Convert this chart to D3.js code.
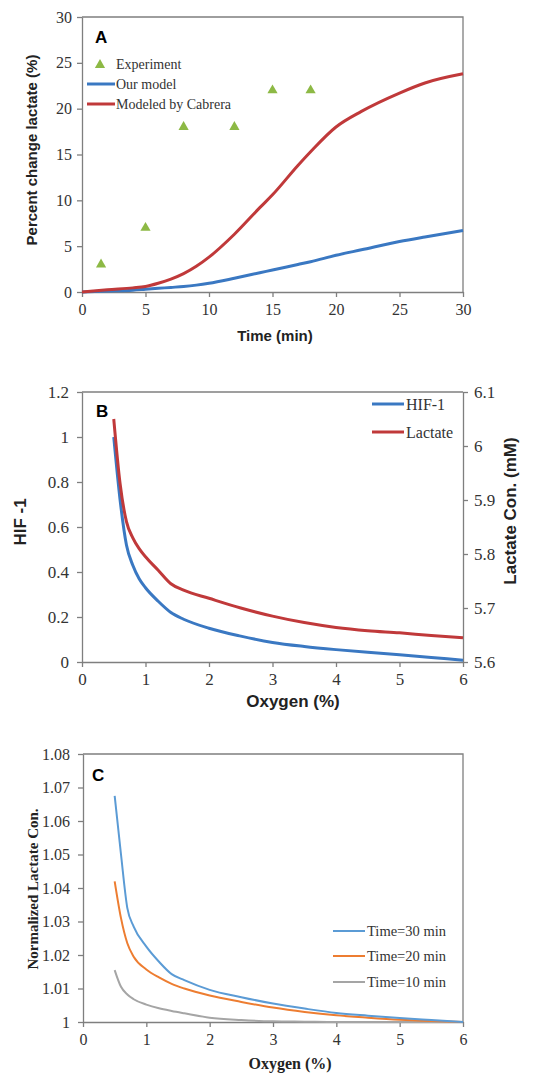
<!DOCTYPE html>
<html>
<head>
<meta charset="utf-8">
<script src="https://cdn.jsdelivr.net/npm/d3@7"></script>
<style>
  body { margin: 0; background: #fff; }
  svg { display: block; }
</style>
</head>
<body>
<svg id="chart" width="551" height="1074"></svg>
<script>
// ---- panel A data ----
var timeA = [0, 2, 4, 5, 6, 7, 8, 9, 10, 12, 14, 15, 17, 18, 20, 22, 25, 27, 30];
var cabrera = [0, 0.25, 0.45, 0.6, 0.95, 1.4, 2.0, 2.8, 3.8, 6.3, 9.2, 10.6, 13.8, 15.3, 18.0, 19.7, 21.7, 22.8, 23.8];
var ourModel = [0, 0.1, 0.2, 0.3, 0.4, 0.5, 0.6, 0.75, 0.95, 1.5, 2.1, 2.4, 3.0, 3.3, 4.0, 4.6, 5.5, 6.0, 6.7];
var expTime = [1.5, 5, 8, 12, 15, 18];
var expVal = [3, 7, 18, 18, 22, 22];

// ---- panel B data ----
var oxyB = [0.5, 0.6, 0.7, 0.8, 0.9, 1.0, 1.2, 1.4, 1.6, 2.0, 2.5, 3.0, 3.5, 4.0, 4.5, 5.0, 5.5, 6.0];
var hif = [1.0, 0.72, 0.52, 0.43, 0.37, 0.33, 0.27, 0.22, 0.19, 0.15, 0.115, 0.087, 0.069, 0.055, 0.043, 0.032, 0.02, 0.008];
var lactate = [6.05, 5.93, 5.86, 5.83, 5.81, 5.795, 5.77, 5.745, 5.733, 5.718, 5.70, 5.685, 5.673, 5.664, 5.658, 5.654, 5.649, 5.645];

// ---- panel C data ----
var oxyC = [0.5, 0.6, 0.7, 0.8, 1.0, 1.2, 1.4, 1.6, 2.0, 2.5, 3.0, 3.5, 4.0, 4.5, 5.0, 5.5, 6.0];
var t30 = [1.0675, 1.05, 1.034, 1.0285, 1.0225, 1.018, 1.0143, 1.0125, 1.0096, 1.0074, 1.0055, 1.004, 1.0027, 1.0019, 1.0012, 1.0006, 1.0];
var t20 = [1.042, 1.031, 1.0235, 1.0195, 1.0157, 1.0133, 1.0114, 1.01, 1.0079, 1.006, 1.0043, 1.003, 1.002, 1.0013, 1.0007, 1.0003, 1.0];
var t10 = [1.0155, 1.0105, 1.0082, 1.0068, 1.0052, 1.0041, 1.0033, 1.0026, 1.0013, 1.0006, 1.0002, 1.0001, 1.0, 1.0, 1.0, 1.0, 1.0];

var svg = d3.select("#chart");
var axisColor = "#7f7f7f";
var serif = "'Liberation Serif', 'Times New Roman', serif";
var sans = "'Liberation Sans', Arial, sans-serif";

function styleAxis(g, size) {
    g.attr("font-family", null).attr("font-size", null);
    g.select(".domain").attr("stroke", axisColor).attr("stroke-width", 1.3);
    g.selectAll(".tick line").attr("stroke", axisColor).attr("stroke-width", 1.3);
    g.selectAll(".tick text")
        .style("font-family", serif)
        .style("font-size", size + "px")
        .attr("fill", "#333");
}

function frame(x0, x1, y0, y1) {
    svg.append("path")
        .attr("d", "M" + x0 + "," + y0 + "H" + x1 + "V" + y1)
        .attr("fill", "none").attr("stroke", axisColor).attr("stroke-width", 1.3);
}

function zipPts(xs, ys) { return xs.map(function(d, i) { return [d, ys[i]]; }); }

// ================= Panel A =================
var xA = d3.scaleLinear().domain([0, 30]).range([82, 463]);
var yA = d3.scaleLinear().domain([0, 30]).range([292, 17]);

frame(82, 463, 17, 292);
svg.append("g").attr("transform", "translate(0,292)")
    .call(d3.axisBottom(xA).tickValues([0, 5, 10, 15, 20, 25, 30]).tickSize(5).tickPadding(7).tickSizeOuter(0))
    .call(styleAxis, 16);
svg.append("g").attr("transform", "translate(82,0)")
    .call(d3.axisLeft(yA).tickValues([0, 5, 10, 15, 20, 25, 30]).tickSize(5).tickPadding(5).tickSizeOuter(0))
    .call(styleAxis, 16);

var lineA = d3.line().x(function(d) { return xA(d[0]); }).y(function(d) { return yA(d[1]); }).curve(d3.curveMonotoneX);

svg.append("path").datum(zipPts(timeA, ourModel)).attr("d", lineA)
    .attr("fill", "none").attr("stroke", "#3a78c2").attr("stroke-width", 3);
svg.append("path").datum(zipPts(timeA, cabrera)).attr("d", lineA)
    .attr("fill", "none").attr("stroke", "#c0393a").attr("stroke-width", 3);

var tri = d3.symbol().type(d3.symbolTriangle).size(45);
svg.selectAll(".exp").data(zipPts(expTime, expVal)).enter().append("path")
    .attr("class", "exp")
    .attr("d", tri)
    .attr("transform", function(d) { return "translate(" + xA(d[0]) + "," + yA(d[1]) + ")"; })
    .attr("fill", "#8db945");

svg.append("text").attr("x", 95).attr("y", 43).text("A")
    .style("font-family", sans).style("font-weight", "bold").style("font-size", "17px");

// legend A
svg.append("path").attr("d", tri).attr("transform", "translate(100,65)").attr("fill", "#8db945");
var legA = [["Our model", "#3a78c2", 84], ["Modeled by Cabrera", "#c0393a", 104]];
legA.forEach(function(l) {
    svg.append("line").attr("x1", 87).attr("x2", 115).attr("y1", l[2]).attr("y2", l[2])
        .attr("stroke", l[1]).attr("stroke-width", 3);
});
var legTextA = [["Experiment", 64], ["Our model", 84], ["Modeled by Cabrera", 104]];
legTextA.forEach(function(l) {
    svg.append("text").attr("x", 116).attr("y", l[1] + 5).text(l[0])
        .style("font-family", serif).style("font-size", "14px").attr("fill", "#333");
});

svg.append("text").attr("transform", "translate(37,150) rotate(-90)").attr("text-anchor", "middle")
    .text("Percent change lactate (%)")
    .style("font-family", sans).style("font-weight", "bold").style("font-size", "15px").attr("fill", "#222");
svg.append("text").attr("x", 275).attr("y", 341).attr("text-anchor", "middle")
    .text("Time (min)")
    .style("font-family", sans).style("font-weight", "bold").style("font-size", "15px").attr("fill", "#222");

// ================= Panel B =================
var xB = d3.scaleLinear().domain([0, 6]).range([82, 463]);
var yB = d3.scaleLinear().domain([0, 1.2]).range([662, 392]);
var yB2 = d3.scaleLinear().domain([5.6, 6.1]).range([662, 392]);

svg.append("line").attr("x1", 82).attr("x2", 463).attr("y1", 392).attr("y2", 392)
    .attr("stroke", axisColor).attr("stroke-width", 1.3);
svg.append("g").attr("transform", "translate(0,662)")
    .call(d3.axisBottom(xB).ticks(6).tickSize(5).tickPadding(6).tickSizeOuter(0))
    .call(styleAxis, 17);
svg.append("g").attr("transform", "translate(82,0)")
    .call(d3.axisLeft(yB).tickValues([0, 0.2, 0.4, 0.6, 0.8, 1, 1.2]).tickFormat(d3.format("~g")).tickSize(5).tickPadding(8).tickSizeOuter(0))
    .call(styleAxis, 17);
svg.append("g").attr("transform", "translate(463,0)")
    .call(d3.axisRight(yB2).tickValues([5.6, 5.7, 5.8, 5.9, 6, 6.1]).tickFormat(d3.format("~g")).tickSize(5).tickPadding(6).tickSizeOuter(0))
    .call(styleAxis, 17);

var lineB1 = d3.line().x(function(d) { return xB(d[0]); }).y(function(d) { return yB(d[1]); }).curve(d3.curveMonotoneX);
var lineB2 = d3.line().x(function(d) { return xB(d[0]); }).y(function(d) { return yB2(d[1]); }).curve(d3.curveMonotoneX);

svg.append("path").datum(zipPts(oxyB, hif)).attr("d", lineB1)
    .attr("fill", "none").attr("stroke", "#3a78c2").attr("stroke-width", 3);
svg.append("path").datum(zipPts(oxyB, lactate)).attr("d", lineB2)
    .attr("fill", "none").attr("stroke", "#c0393a").attr("stroke-width", 3);

svg.append("text").attr("x", 96).attr("y", 417).text("B")
    .style("font-family", sans).style("font-weight", "bold").style("font-size", "17px");

var legB = [["HIF-1", "#3a78c2", 404], ["Lactate", "#c0393a", 432]];
legB.forEach(function(l) {
    svg.append("line").attr("x1", 372).attr("x2", 404).attr("y1", l[2]).attr("y2", l[2])
        .attr("stroke", l[1]).attr("stroke-width", 3);
    svg.append("text").attr("x", 406).attr("y", l[2] + 6).text(l[0])
        .style("font-family", serif).style("font-size", "16px").attr("fill", "#333");
});

svg.append("text").attr("transform", "translate(26,522) rotate(-90)").attr("text-anchor", "middle")
    .text("HIF -1")
    .style("font-family", sans).style("font-weight", "bold").style("font-size", "17px").attr("fill", "#222");
svg.append("text").attr("transform", "translate(516,511) rotate(-90)").attr("text-anchor", "middle")
    .text("Lactate Con. (mM)")
    .style("font-family", sans).style("font-weight", "bold").style("font-size", "17px").attr("fill", "#222");
svg.append("text").attr("x", 293).attr("y", 707).attr("text-anchor", "middle")
    .text("Oxygen (%)")
    .style("font-family", sans).style("font-weight", "bold").style("font-size", "17px").attr("fill", "#222");

// ================= Panel C =================
var xC = d3.scaleLinear().domain([0, 6]).range([83, 463]);
var yC = d3.scaleLinear().domain([1, 1.08]).range([1022, 754]);

frame(83, 463, 754, 1022);
svg.append("g").attr("transform", "translate(0,1022)")
    .call(d3.axisBottom(xC).ticks(6).tickSize(5).tickPadding(7).tickSizeOuter(0))
    .call(styleAxis, 16);
svg.append("g").attr("transform", "translate(83,0)")
    .call(d3.axisLeft(yC).tickValues([1, 1.01, 1.02, 1.03, 1.04, 1.05, 1.06, 1.07, 1.08]).tickFormat(d3.format("~g")).tickSize(5).tickPadding(8).tickSizeOuter(0))
    .call(styleAxis, 16);

var lineC = d3.line().x(function(d) { return xC(d[0]); }).y(function(d) { return yC(d[1]); }).curve(d3.curveMonotoneX);
var seriesC = [[t10, "#a5a5a5"], [t20, "#ed7d31"], [t30, "#5b9bd5"]];
seriesC.forEach(function(s) {
    svg.append("path").datum(zipPts(oxyC, s[0])).attr("d", lineC)
        .attr("fill", "none").attr("stroke", s[1]).attr("stroke-width", 2);
});

svg.append("text").attr("x", 92).attr("y", 781).text("C")
    .style("font-family", sans).style("font-weight", "bold").style("font-size", "17px");

var legC = [["Time=30 min", "#5b9bd5", 931], ["Time=20 min", "#ed7d31", 956], ["Time=10 min", "#a5a5a5", 982]];
legC.forEach(function(l) {
    svg.append("line").attr("x1", 333).attr("x2", 365).attr("y1", l[2]).attr("y2", l[2])
        .attr("stroke", l[1]).attr("stroke-width", 2);
    svg.append("text").attr("x", 367).attr("y", l[2] + 5).text(l[0])
        .style("font-family", serif).style("font-size", "14.5px").attr("fill", "#333");
});

svg.append("text").attr("transform", "translate(38,889) rotate(-90)").attr("text-anchor", "middle")
    .text("Normalized Lactate Con.")
    .style("font-family", serif).style("font-weight", "bold").style("font-size", "15px").attr("fill", "#222");
svg.append("text").attr("x", 290).attr("y", 1069).attr("text-anchor", "middle")
    .text("Oxygen (%)")
    .style("font-family", serif).style("font-weight", "bold").style("font-size", "16px").attr("fill", "#222");
</script>
</body>
</html>
